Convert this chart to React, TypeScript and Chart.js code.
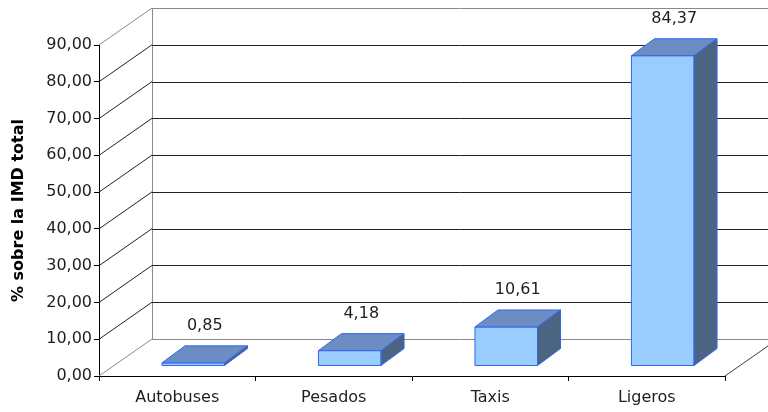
import React, { useEffect, useRef } from "react";
import { Chart, registerables } from "chart.js";

Chart.register(...registerables);

const categories = ["Autobuses", "Pesados", "Taxis", "Ligeros"];
const values = [0.85, 4.18, 10.61, 84.37];
const yMin = 0;
const yMax = 90;
const yStep = 10;
const yTitle = "% sobre la IMD total";

const fmt = (v: number) => v.toFixed(2).replace(".", ",");

// 3D geometry
const WALL_DX = 53;
const WALL_DY = -37;
const BAR_OFF_X = 16;
const BAR_OFF_Y = -10;
const BAR_DX = 23;
const BAR_DY = -17;
const LABEL_GAP = 20;

const FONT = "DejaVu Sans";
const TEXT = "#1e1e1e";

const wallsPlugin = {
  id: "walls3d",
  beforeDatasetsDraw(chart: any) {
    const { ctx, chartArea, scales } = chart;
    const { left, right, bottom } = chartArea;
    const y = scales.y;
    const r = (n: number) => Math.round(n) + 0.5;
    ctx.save();
    ctx.lineWidth = 1;
    const topPx = y.getPixelForValue(yMax);
    // back wall left vertical edge
    ctx.strokeStyle = "#8a8a8a";
    ctx.beginPath();
    ctx.moveTo(r(left + WALL_DX), r(topPx + WALL_DY));
    ctx.lineTo(r(left + WALL_DX), r(bottom + WALL_DY));
    ctx.stroke();
    for (let v = yMin; v <= yMax + 1e-9; v += yStep) {
      const py = y.getPixelForValue(v);
      const edge = v === yMin || v === yMax;
      ctx.strokeStyle = edge ? "#8a8a8a" : "#202020";
      ctx.beginPath();
      ctx.moveTo(left, py);
      ctx.lineTo(left + WALL_DX, py + WALL_DY);
      ctx.stroke();
      ctx.beginPath();
      ctx.moveTo(left + WALL_DX, r(py + WALL_DY));
      ctx.lineTo(right + WALL_DX + 20, r(py + WALL_DY));
      ctx.stroke();
    }
    // right floor edge
    ctx.strokeStyle = "#404040";
    ctx.beginPath();
    ctx.moveTo(right, bottom);
    ctx.lineTo(right + WALL_DX, bottom + WALL_DY);
    ctx.stroke();
    ctx.restore();
  },
  afterDatasetsDraw(chart: any) {
    const { ctx } = chart;
    const meta = chart.getDatasetMeta(0);
    ctx.save();
    ctx.lineWidth = 1;
    ctx.lineJoin = "round";
    meta.data.forEach((el: any, i: number) => {
      const w = el.width;
      const x0 = el.x - w / 2 + BAR_OFF_X;
      const x1 = x0 + w;
      const yT = el.y + BAR_OFF_Y;
      const yB = el.base + BAR_OFF_Y;
      ctx.strokeStyle = "#3366ee";
      // front
      ctx.fillStyle = "#99ccff";
      ctx.beginPath();
      ctx.rect(x0, yT, w, yB - yT);
      ctx.fill();
      ctx.stroke();
      // top
      ctx.fillStyle = "#6b8dc4";
      ctx.beginPath();
      ctx.moveTo(x0, yT);
      ctx.lineTo(x1, yT);
      ctx.lineTo(x1 + BAR_DX, yT + BAR_DY);
      ctx.lineTo(x0 + BAR_DX, yT + BAR_DY);
      ctx.closePath();
      ctx.fill();
      ctx.stroke();
      // side
      ctx.fillStyle = "#4b6482";
      ctx.beginPath();
      ctx.moveTo(x1, yT);
      ctx.lineTo(x1 + BAR_DX, yT + BAR_DY);
      ctx.lineTo(x1 + BAR_DX, yB + BAR_DY);
      ctx.lineTo(x1, yB);
      ctx.closePath();
      ctx.fill();
      ctx.stroke();
      // label
      ctx.fillStyle = TEXT;
      ctx.font = `16px "${FONT}"`;
      ctx.textAlign = "center";
      ctx.textBaseline = "middle";
      ctx.fillText(fmt(values[i]), x0 + w / 2 + BAR_DX / 2, yT + BAR_DY - LABEL_GAP);
    });
    ctx.restore();
  },
};

export default function App() {
  const ref = useRef<HTMLCanvasElement | null>(null);
  useEffect(() => {
    if (!ref.current) return;
    const chart = new Chart(ref.current, {
      type: "bar",
      data: {
        labels: categories,
        datasets: [
          {
            data: values,
            backgroundColor: "rgba(0,0,0,0)",
            borderWidth: 0,
            barPercentage: 0.4,
            categoryPercentage: 1,
          },
        ],
      },
      options: {
        responsive: false,
        animation: false,
        events: [],
        layout: { padding: { top: 45, right: 43, left: 0, bottom: 0 } },
        plugins: { legend: { display: false }, tooltip: { enabled: false } },
        scales: {
          x: {
            type: "category",
            offset: true,
            grid: {
              display: true,
              offset: true,
              drawOnChartArea: false,
              drawTicks: true,
              tickLength: 5,
              color: "#000",
            },
            border: { display: true, color: "#000" },
            ticks: { font: { family: FONT, size: 16 }, color: TEXT, padding: 7 },
            afterFit: (s: any) => {
              s.height = 36;
            },
          },
          y: {
            min: yMin,
            max: yMax,
            grid: {
              drawOnChartArea: false,
              drawTicks: true,
              tickLength: 5,
              color: "#000",
            },
            border: { display: true, color: "#000" },
            ticks: {
              stepSize: yStep,
              font: { family: FONT, size: 16 },
              color: TEXT,
              padding: 2,
              callback: (v: any) => fmt(Number(v)),
            },
            title: {
              display: true,
              text: yTitle,
              font: { family: FONT, size: 16, weight: "bold" },
              color: "#000",
              padding: { top: 9, bottom: 0 },
            },
            afterFit: (s: any) => {
              s.width = 99;
            },
          },
        },
      },
      plugins: [wallsPlugin],
    });
    return () => chart.destroy();
  }, []);
  return (
    <div style={{ position: "fixed", left: 0, top: 0, width: 768, height: 412, background: "#fff" }}>
      <canvas ref={ref} width={768} height={412} style={{ display: "block" }} />
    </div>
  );
}
